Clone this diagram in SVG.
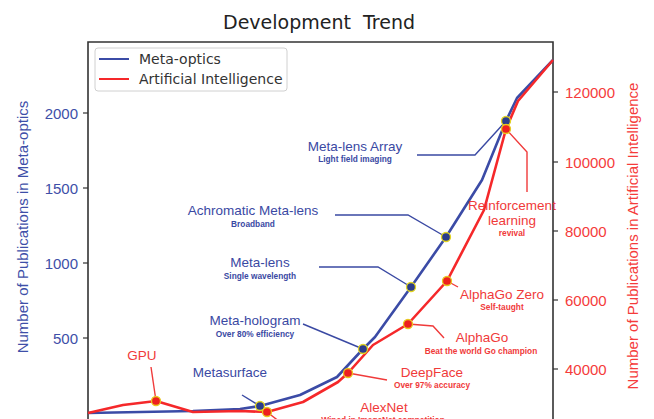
<svg xmlns="http://www.w3.org/2000/svg" width="654" height="419" viewBox="0 0 654 419">
  <style>
    .title { font-family: "DejaVu Sans", sans-serif; font-size: 19px; fill: #222; }
    .legend { font-family: "DejaVu Sans", sans-serif; font-size: 14px; fill: #333; }
    .tickB { font-family: "Liberation Sans", Arial, sans-serif; font-size: 15px; fill: #3e4fa8; text-anchor: end; }
    .tickR { font-family: "Liberation Sans", Arial, sans-serif; font-size: 15px; fill: #f53b3b; }
    .axlabB { font-family: "Liberation Sans", Arial, sans-serif; font-size: 15px; fill: #3e4fa8; text-anchor: middle; }
    .axlabR { font-family: "Liberation Sans", Arial, sans-serif; font-size: 15px; fill: #f53b3b; text-anchor: middle; }
    .nb { font-family: "Liberation Sans", Arial, sans-serif; font-size: 13.5px; fill: #3a49a3; text-anchor: middle; }
    .sb { font-family: "Liberation Sans", Arial, sans-serif; font-size: 8.3px; font-weight: bold; fill: #3a49a3; text-anchor: middle; }
    .nr { font-family: "Liberation Sans", Arial, sans-serif; font-size: 13.5px; fill: #f03a3a; text-anchor: middle; }
    .sr { font-family: "Liberation Sans", Arial, sans-serif; font-size: 8.3px; font-weight: bold; fill: #f03a3a; text-anchor: middle; }
    .spine { stroke: #333; stroke-width: 1.6; fill: none; }
    .tick { stroke: #333; stroke-width: 1.2; }
    .lineB { fill: none; stroke: #3b4ba6; stroke-width: 2.6; stroke-linejoin: round; }
    .lineR { fill: none; stroke: #f5282a; stroke-width: 2.6; stroke-linejoin: round; }
    .leadB { fill: none; stroke: #3a49a3; stroke-width: 1.4; }
    .leadR { fill: none; stroke: #f03a3a; stroke-width: 1.4; }
    .dotB { fill: #2b3c8c; stroke: #e2d420; stroke-width: 1.3; }
    .dotR { fill: #ee1f1f; stroke: #e8c820; stroke-width: 1.3; }
  </style>

  <rect width="654" height="419" fill="#fff"/>

  <text class="title" x="319" y="29" text-anchor="middle" xml:space="preserve">Development  Trend</text>

  <!-- axes frame -->
  <g id="axes">
    <path class="spine" d="M88,430 V42 H553 V430"/>
    <line class="tick" x1="83" y1="113" x2="88" y2="113"/>
    <line class="tick" x1="83" y1="188" x2="88" y2="188"/>
    <line class="tick" x1="83" y1="263" x2="88" y2="263"/>
    <line class="tick" x1="83" y1="338" x2="88" y2="338"/>
    <text class="tickB" x="78" y="119">2000</text>
    <text class="tickB" x="78" y="194">1500</text>
    <text class="tickB" x="78" y="269">1000</text>
    <text class="tickB" x="78" y="344">500</text>

    <line class="tick" x1="553" y1="92" x2="558" y2="92"/>
    <line class="tick" x1="553" y1="162" x2="558" y2="162"/>
    <line class="tick" x1="553" y1="231" x2="558" y2="231"/>
    <line class="tick" x1="553" y1="300" x2="558" y2="300"/>
    <line class="tick" x1="553" y1="369" x2="558" y2="369"/>
    <text class="tickR" x="565" y="98">120000</text>
    <text class="tickR" x="565" y="168">100000</text>
    <text class="tickR" x="565" y="237">80000</text>
    <text class="tickR" x="565" y="306">60000</text>
    <text class="tickR" x="565" y="375">40000</text>

    <text class="axlabB" transform="translate(28,227) rotate(-90)">Number of Publications in Meta-optics</text>
    <text class="axlabR" transform="translate(638,236) rotate(-90)">Number of Publications in Artificial Intelligence</text>
  </g>

  <!-- legend -->
  <g id="legend">
    <rect x="95" y="48" width="192" height="43" rx="3" fill="#fff" stroke="#d0d0d0" stroke-width="1"/>
    <line x1="99" y1="59" x2="129" y2="59" stroke="#3b4ba6" stroke-width="2"/>
    <line x1="99" y1="79" x2="129" y2="79" stroke="#f5282a" stroke-width="2"/>
    <text class="legend" x="139" y="64">Meta-optics</text>
    <text class="legend" x="139" y="84">Artificial Intelligence</text>
  </g>

  <!-- data curves -->
  <g id="connectors">
    <polyline id="meta-optics" class="lineB" points="88,413 193,411 240,409 260,406 300,395 337,377 363,349 375,337 411,287 446,237 482,180 506,121 517,98 553,60"/>
    <polyline id="ai" class="lineR" points="88,413 123,405 156,401 193,412 240,411 267,412 303,402 338,382 348,373 373,345 408,324 447,281 484,210 506,129 518,101 553,60"/>

    <!-- annotation leaders -->
    <polyline class="leadB" points="417,155 475,155 506,121"/>
    <polyline class="leadB" points="335,215 408,215 446,237"/>
    <polyline class="leadB" points="319,267 378,267 411,287"/>
    <polyline class="leadB" points="303,324 363,349"/>
    <polyline class="leadB" points="242,395 260,406"/>

    <polyline class="leadR" points="151,367 156,401"/>
    <polyline class="leadR" points="506,129 527,152 527,192"/>
    <polyline class="leadR" points="447,281 458,287"/>
    <polyline class="leadR" points="408,324 433,326 444,338"/>
    <polyline class="leadR" points="348,373 387,380"/>
    <polyline class="leadR" points="267,412 280,422"/>
  </g>

  <!-- milestones: Meta-optics -->
  <g id="metasurface">
    <circle class="dotB" cx="260" cy="406" r="4.5"/>
    <text class="nb" x="230" y="377">Metasurface</text>
  </g>
  <g id="meta-hologram">
    <circle class="dotB" cx="363" cy="349" r="4.5"/>
    <text class="nb" x="255" y="325">Meta-hologram</text>
    <text class="sb" x="255" y="337">Over 80% efficiency</text>
  </g>
  <g id="meta-lens">
    <circle class="dotB" cx="411" cy="287" r="4.5"/>
    <text class="nb" x="260" y="267">Meta-lens</text>
    <text class="sb" x="260" y="279">Single wavelength</text>
  </g>
  <g id="achromatic-meta-lens">
    <circle class="dotB" cx="446" cy="237" r="4.5"/>
    <text class="nb" x="253" y="215">Achromatic Meta-lens</text>
    <text class="sb" x="253" y="227">Broadband</text>
  </g>
  <g id="meta-lens-array">
    <circle class="dotB" cx="506" cy="121" r="4.5"/>
    <text class="nb" x="355" y="151">Meta-lens Array</text>
    <text class="sb" x="355" y="162">Light field imaging</text>
  </g>

  <!-- milestones: Artificial Intelligence -->
  <g id="gpu">
    <circle class="dotR" cx="156" cy="401" r="4.5"/>
    <text class="nr" x="142" y="360">GPU</text>
  </g>
  <g id="alexnet">
    <circle class="dotR" cx="267" cy="412" r="4.5"/>
    <text class="nr" x="384" y="412">AlexNet</text>
    <text class="sr" x="383" y="423">Wined in ImageNet competition</text>
  </g>
  <g id="deepface">
    <circle class="dotR" cx="348" cy="373" r="4.5"/>
    <text class="nr" x="432" y="377">DeepFace</text>
    <text class="sr" x="432" y="388">Over 97% accuracy</text>
  </g>
  <g id="alphago">
    <circle class="dotR" cx="408" cy="324" r="4.5"/>
    <text class="nr" x="482" y="342">AlphaGo</text>
    <text class="sr" x="481" y="354">Beat the world Go champion</text>
  </g>
  <g id="alphago-zero">
    <circle class="dotR" cx="447" cy="281" r="4.5"/>
    <text class="nr" x="502" y="299">AlphaGo Zero</text>
    <text class="sr" x="502" y="310">Self-taught</text>
  </g>
  <g id="reinforcement-learning">
    <circle class="dotR" cx="506" cy="129" r="4.5"/>
    <text class="nr" x="512" y="210">Reinforcement</text>
    <text class="nr" x="512" y="225">learning</text>
    <text class="sr" x="512" y="236">revival</text>
  </g>
</svg>
